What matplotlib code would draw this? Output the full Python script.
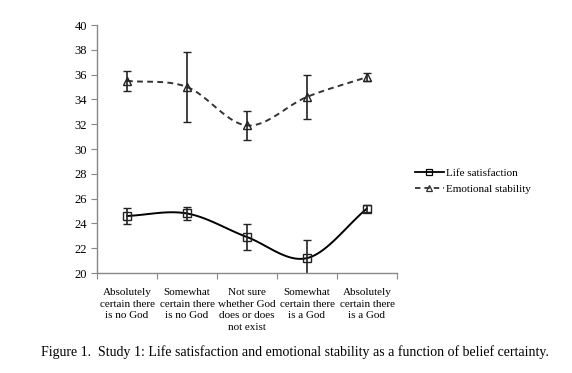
import numpy as np
import matplotlib
matplotlib.use("Agg")
import matplotlib.pyplot as plt
from matplotlib.lines import Line2D

plt.rcParams['font.family'] = ['Liberation Serif', 'DejaVu Serif']

categories = ["Absolutely\ncertain there\nis no God",
              "Somewhat\ncertain there\nis no God",
              "Not sure\nwhether God\ndoes or does\nnot exist",
              "Somewhat\ncertain there\nis a God",
              "Absolutely\ncertain there\nis a God"]
life_sat = [24.6, 24.8, 22.9, 21.2, 25.2]
life_err = [0.65, 0.55, 1.05, 1.5, 0.3]
emo_stab = [35.5, 35.0, 31.9, 34.2, 35.8]
emo_err = [0.8, 2.85, 1.2, 1.8, 0.35]
yticks = [20, 22, 24, 26, 28, 30, 32, 34, 36, 38, 40]


def smooth(xs, ys, n=30):
    # Catmull-Rom style smoothing for drawing (like Excel smoothed lines)
    xs = np.asarray(xs, float); ys = np.asarray(ys, float)
    px = np.concatenate([[2*xs[0]-xs[1]], xs, [2*xs[-1]-xs[-2]]])
    py = np.concatenate([[2*ys[0]-ys[1]], ys, [2*ys[-1]-ys[-2]]])
    outx, outy = [], []
    for i in range(1, len(px)-2):
        t = np.linspace(0, 1, n)
        for arr, out in ((px, outx), (py, outy)):
            p0, p1, p2, p3 = arr[i-1], arr[i], arr[i+1], arr[i+2]
            out.extend(0.5*((2*p1) + (-p0+p2)*t + (2*p0-5*p1+4*p2-p3)*t**2
                            + (-p0+3*p1-3*p2+p3)*t**3))
    return np.array(outx), np.array(outy)


fig = plt.figure(figsize=(5.72, 3.73), dpi=100)
ax = fig.add_axes([97/572, 1-273/373, 300/572, 248/373])

x = np.arange(len(categories))
sx, sy = smooth(x, life_sat)
ax.plot(sx, sy, color='black', lw=1.4, solid_capstyle='round')
ax.errorbar(x, life_sat, yerr=life_err, fmt='s', mfc='none', mec='#222222',
            ms=6, mew=1, ecolor='#222222', elinewidth=1.2, capsize=3.2, capthick=1.2)
sx, sy = smooth(x, emo_stab)
ax.plot(sx, sy, color='#333333', lw=1.4, ls=(0, (3, 2.2)))
ax.errorbar(x, emo_stab, yerr=emo_err, fmt='^', mfc='none', mec='#222222',
            ms=6, mew=1, ecolor='#222222', elinewidth=1.2, capsize=3.2, capthick=1.2)

ax.set_xlim(-0.5, len(categories)-0.5)
ax.set_ylim(20, 40)
ax.set_yticks(yticks)
ax.set_yticklabels([str(v) for v in yticks], fontsize=9)
ax.set_xticks(np.arange(len(categories)+1) - 0.5)
ax.set_xticklabels([])
ax.set_xticks(x, minor=True)
ax.set_xticklabels(categories, minor=True, fontsize=8, linespacing=1.36)
ax.tick_params(axis='x', which='minor', length=0, pad=11)
ax.tick_params(axis='x', which='major', direction='out', length=4, color='#888888')
ax.tick_params(axis='y', direction='out', length=4, color='#888888', pad=3)
for s in ['top', 'right']:
    ax.spines[s].set_visible(False)
for s in ['left', 'bottom']:
    ax.spines[s].set_color('#888888')
    ax.spines[s].set_linewidth(1)

handles = [Line2D([], [], color='black', lw=1.3, marker='s', mfc='none', ms=5, mew=0.9),
           Line2D([], [], color='#333333', lw=1.3, ls=(0, (3, 2.2)), marker='^', mfc='none', ms=5, mew=0.9)]
fig.legend(handles, ['Life satisfaction', 'Emotional stability'], loc='center left',
           bbox_to_anchor=(405/572, 1-181/373), frameon=False, fontsize=8,
           handlelength=2.6, handletextpad=0.2, labelspacing=0.6)

fig.text(0.515, 1-352/373, 'Figure 1.  Study 1: Life satisfaction and emotional stability as a function of belief certainty.',
         ha='center', va='center', fontsize=10)

fig.savefig('out.png', dpi=100)
